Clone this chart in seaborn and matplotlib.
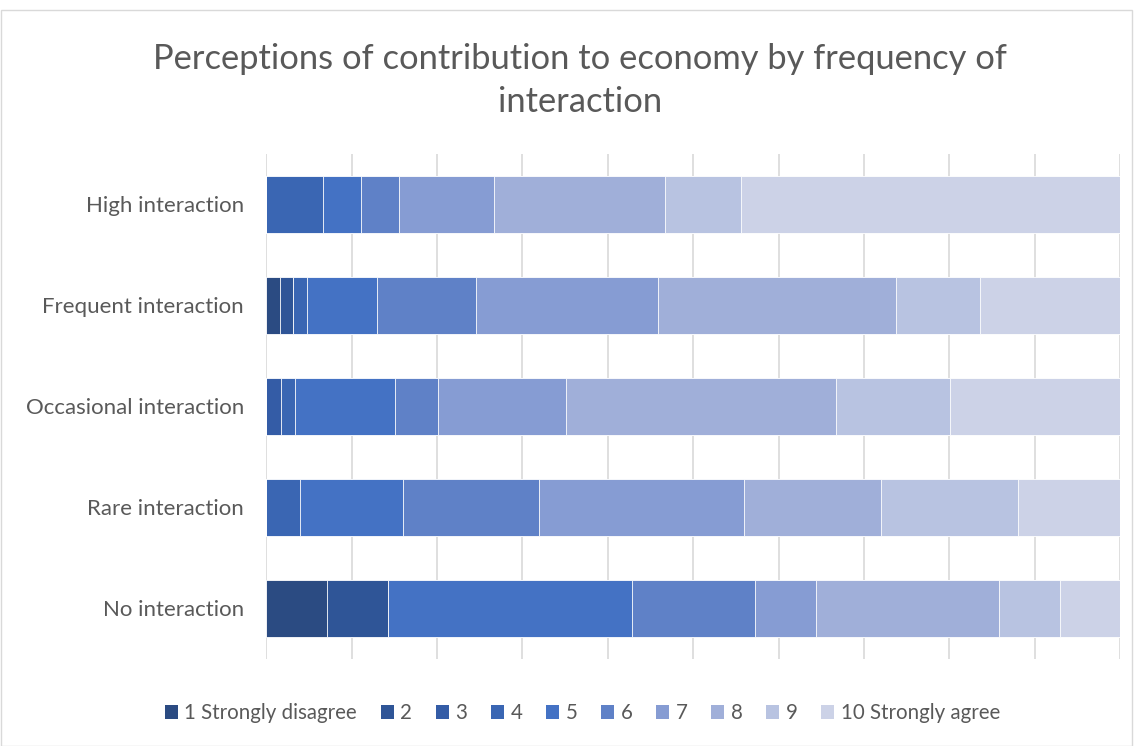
import pandas as pd
import matplotlib.pyplot as plt
import seaborn as sns
from matplotlib.patches import Patch, Rectangle

# categories (top to bottom)
groups = ['High interaction', 'Frequent interaction', 'Occasional interaction',
          'Rare interaction', 'No interaction']

# share of respondents (%) per rating, same order as groups
r1 = [0, 1.6, 0, 0, 7.1]
r2 = [0, 1.6, 0, 0, 7.1]
r3 = [0, 0, 1.7, 0, 0]
r4 = [6.7, 1.6, 1.7, 4.0, 0]
r5 = [4.4, 8.2, 11.7, 12.0, 28.6]
r6 = [4.4, 11.5, 5.0, 16.0, 14.3]
r7 = [11.1, 21.3, 15.0, 24.0, 7.1]
r8 = [20.0, 27.9, 31.7, 16.0, 21.4]
r9 = [8.9, 9.8, 13.3, 16.0, 7.1]
r10 = [44.4, 16.4, 20.0, 12.0, 7.1]

labels = ['1 Strongly disagree', '2', '3', '4', '5', '6', '7', '8', '9', '10 Strongly agree']
colors = ['#2B4B82', '#2F5597', '#345CA6', '#3A66B3', '#4472C4',
          '#5F81C7', '#869CD3', '#A0AFD9', '#B8C3E1', '#CCD2E7']

df = pd.DataFrame([r1, r2, r3, r4, r5, r6, r7, r8, r9, r10], index=labels, columns=groups).T
df = df.div(df.sum(axis=1), axis=0) * 100
cum = df.cumsum(axis=1)

sns.set_theme(style='white')
plt.rcParams['font.family'] = ['Lato', 'DejaVu Sans']
text_color = '#595959'

fig = plt.figure(figsize=(11.42, 7.46), dpi=100)
ax = fig.add_axes([0.233, 0.117, 0.748, 0.677])

# stacked bars: draw cumulative totals from the right-most rating down
for lab, col in reversed(list(zip(labels, colors))):
    sns.barplot(x=cum[lab].values, y=groups, order=groups, orient='h', color=col,
                saturation=1, width=0.565, edgecolor='white', linewidth=0.6, ax=ax)

ax.set_xlim(0, 100)
ax.set_xticks(range(0, 101, 10))
ax.set_xticklabels([])
ax.grid(axis='x', color='#D9D9D9', linewidth=1.2)
ax.set_axisbelow(True)
for s in ax.spines.values():
    s.set_visible(False)
ax.tick_params(axis='both', length=0)
ax.tick_params(axis='y', pad=16, labelsize=16, labelcolor=text_color)
ax.set_xlabel('')
ax.set_ylabel('')

fig.text(0.508, 0.892, 'Perceptions of contribution to economy by frequency of\ninteraction',
         ha='center', va='center', fontsize=24.8, color=text_color, linespacing=1.4)

handles = [Patch(facecolor=c, edgecolor='none') for c in colors]
fig.legend(handles, labels, loc='center', bbox_to_anchor=(0.51, 0.044), ncol=10,
           frameon=False, fontsize=14.8, labelcolor=text_color, handlelength=0.65,
           handleheight=0.65, handletextpad=0.3, columnspacing=1.15)

# chart border
fig.patches.append(Rectangle((0.001, 0.0), 0.99, 0.986, transform=fig.transFigure,
                             fill=False, edgecolor='#D9D9D9', linewidth=1))

fig.savefig('out.png', dpi=100, facecolor='white')
